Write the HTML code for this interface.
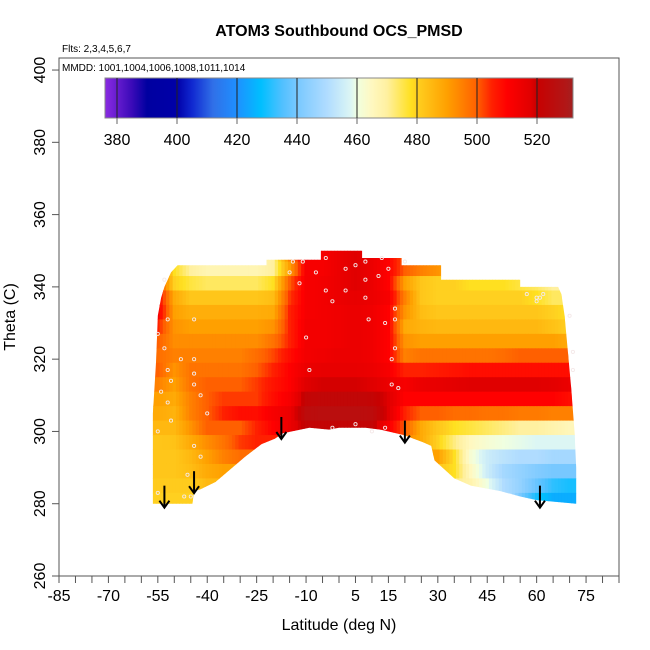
<!DOCTYPE html>
<html><head><meta charset="utf-8">
<style>
html,body{margin:0;padding:0;background:#fff;}
svg{display:block;font-family:"Liberation Sans",Arial,sans-serif;}
</style></head>
<body>
<svg id="chart" width="650" height="650" viewBox="0 0 650 650" xmlns="http://www.w3.org/2000/svg">
<defs>
<linearGradient id="cbgrad" x1="0" x2="1" y1="0" y2="0"></linearGradient>
<clipPath id="domclip"><polygon id="dompoly" points=""></polygon></clipPath>
</defs>
<text x="339" y="36" text-anchor="middle" font-size="16" font-weight="bold">ATOM3 Southbound OCS_PMSD</text>
<text x="62" y="52" font-size="10">Flts: 2,3,4,5,6,7</text>
<g id="heat" clip-path="url(#domclip)"></g>
<g id="pts"></g>
<g id="arrows"></g>
<rect x="59" y="58" width="560" height="518" fill="none" stroke="#555" stroke-width="1"></rect>
<text x="62" y="71" font-size="10">MMDD: 1001,1004,1006,1008,1011,1014</text>
<g id="cbar"></g>
<g id="xaxis"></g>
<g id="yaxis"></g>
<text x="339" y="630" text-anchor="middle" font-size="16">Latitude (deg N)</text>
<text x="0" y="0" transform="translate(15,317) rotate(-90)" text-anchor="middle" font-size="16">Theta (C)</text>
</svg>
<script>
const lats = [-55,-50,-45,-40,-35,-30,-25,-20,-15,-10,-5,0,5,10,15,20,25,30,35,40,45,50,55,60,65,70];
const thetas = [349,345,341,337,333,329,325,321,317,313,309,305,301,297,293,289,285,281];
const row349=[505,478,468,467,467,467,468,470,495,512,512,515,518,515,510,500,495,495,490,485,482,480,478,474,470,470];
const row345=[505,478,470,467,467,467,467,470,490,512,512,515,518,515,510,500,495,492,488,482,480,478,476,474,470,470];
const row341=[505,480,476,474,474,474,474,478,500,512,513,515,518,515,510,490,482,480,480,478,478,478,476,474,470,470];
const row337=[510,488,482,482,482,482,482,484,503,512,513,515,516,515,512,495,482,480,480,480,480,480,480,478,474,474];
const row333=[512,490,487,487,487,487,487,488,505,512,513,514,515,514,510,492,484,482,482,482,482,482,482,482,480,478];
const row329=[505,492,490,490,490,490,490,492,505,513,513,514,515,514,510,488,486,485,485,485,485,485,485,485,483,480];
const row325=[500,493,493,493,493,493,493,497,505,513,513,514,515,514,510,492,490,490,490,490,490,490,490,490,490,488];
const row321=[498,495,495,495,495,495,498,502,508,513,514,515,515,514,510,495,497,497,497,497,497,498,500,500,500,500];
const row317=[500,492,497,497,497,497,500,505,510,515,516,516,516,515,512,505,505,506,507,508,508,508,508,508,508,508];
const row313=[495,490,497,500,500,500,503,507,510,518,519,519,519,518,515,512,515,516,517,518,518,518,518,518,517,515];
const row309=[490,488,495,500,503,503,503,508,512,522,523,523,523,522,518,510,510,510,510,510,510,510,510,510,510,508];
const row305=[488,486,495,500,505,508,508,512,515,525,526,526,526,525,518,505,500,500,498,498,497,497,496,496,495,495];
const row301=[485,485,492,500,500,500,505,510,515,522,522,522,522,522,512,500,488,482,478,476,474,472,470,470,468,466];
const row297=[482,483,488,493,497,503,505,505,505,505,505,505,505,505,500,495,488,480,472,465,462,460,459,458,458,458];
const row293=[482,482,485,490,495,498,498,498,498,498,498,498,498,498,495,490,490,490,478,462,455,452,450,450,448,448];
const row289=[482,482,484,488,490,490,490,490,490,490,490,490,490,490,490,490,485,482,478,465,455,448,445,442,440,440];
const row285=[481,481,481,485,485,485,485,485,485,485,485,485,485,485,485,485,480,478,472,468,460,450,445,438,432,430];
const row281=[480,480,480,480,480,480,480,480,480,480,480,480,480,480,480,480,475,470,465,460,458,455,440,430,425,425];
const grid=[row349,row345,row341,row337,row333,row329,row325,row321,row317,row313,row309,row305,row301,row297,row293,row289,row285,row281];
const boundLat=[-56.5,-56.5,-55.5,-55,-54,-53,-52,-51,-49,-22,-22,-5.5,-5.5,7,7,19,19,31,31,55,55,66.5,67.5,68.5,69.5,70.5,71.5,72,72,60,55,49,40,35,29,28,25.5,19.7,12.5,8,0,-3,-9,-17,-19.5,-23.5,-28.5,-37.5,-42,-44,-44.5,-50,-56.5];
const boundTh=[280,305,320,332,337,340,342,344,346,346,347.5,347.5,350,350,348,348,346,346,342,342,340,340,338,332,322,312,300,290,280,281,282,283.5,285,287,292,296,297,299,300.5,301,301,300.5,301,299.5,298,296.5,293,286,284,283.5,280,280,280];
const ptLat=[-53,-52,-55,-53,-52,-51,-54,-52,-51,-55,-44,-44,-42,-40,-44,-42,-46,-45,-55,-47,-44,-48,-44,-14,-15,-12,-11,-4,-7,-4,-2,2,2,8,8,8,9,12,5,-10,-9,-2,5,10,14,16,17,17,17,15,13,20,14,16,18,57,60,60,61,62,71,71,70];
const ptTh=[342,331,327,323,317,314,311,308,303,300,313,316,310,305,296,293,288,282,283,282,331,320,320,347,344,341,347,348,344,339,336,345,339,347,342,337,331,343,346,326,317,301,302,300,301,320,323,331,334,345,348,347,330,313,312,338,337,336,337,338,322,317,332];
const arrowLat=[-53,-44,-17.5,20,61];
const arrowTh=[285,289,304,303,285];
const cbValues=[376,385,390,400,405,412,420,428,435,440,450,458,460,465,470,478,480,490,495,500,505,510,518,520,530,532];
const cbColors=["#8a2be2","#3a0ab8","#0000a0","#0000a8","#1028d0","#3070e8","#1e90ff","#00bfff","#50c0ff","#78c8ff","#b0dcff","#dcf6f4","#f0ffe0","#fff8c0","#fff0a0","#ffe020","#ffd020","#ffa000","#ff8000","#ff6000","#ff2000","#ff0000","#e00000","#c80000","#b01818","#a02020"];
const cbTicks=[380,400,420,440,460,480,500,520];
const xTickVals=[-85,-80,-75,-70,-65,-60,-55,-50,-45,-40,-35,-30,-25,-20,-15,-10,-5,0,5,10,15,20,25,30,35,40,45,50,55,60,65,70,75,80,85];
const xLabelVals=[-85,-70,-55,-40,-25,-10,5,15,30,45,60,75];
const yTickVals=[260,280,300,320,340,360,380,400];

const NS="http://www.w3.org/2000/svg";
function xs(l){return 59+(l+85)*3.2941;}
function ys(t){return 576-(t-260)*3.614;}
function cbx(v){return 117+(v-380)*3;}
function hex(h){return [parseInt(h.substr(1,2),16),parseInt(h.substr(3,2),16),parseInt(h.substr(5,2),16)];}
function colorOf(v){
  if(v<=cbValues[0])return cbColors[0];
  for(let i=1;i<cbValues.length;i++){
    if(v<=cbValues[i]){
      const f=(v-cbValues[i-1])/(cbValues[i]-cbValues[i-1]);
      const a=hex(cbColors[i-1]),b=hex(cbColors[i]);
      return "rgb("+a.map((c,k)=>Math.round(c+(b[k]-c)*f)).join(",")+")";
    }
  }
  return cbColors[cbColors.length-1];
}
function mk(tag,attrs,parent){const e=document.createElementNS(NS,tag);for(const k in attrs)e.setAttribute(k,attrs[k]);parent.appendChild(e);return e;}

document.getElementById('dompoly').setAttribute('points',boundLat.map((l,i)=>xs(l).toFixed(1)+","+ys(boundTh[i]).toFixed(1)).join(" "));
const heat=document.getElementById('heat');
const SUB=5;
for(let r=0;r<thetas.length;r++){
  const y0=ys(thetas[r]+2),y1=ys(thetas[r]-2);
  for(let c=0;c<lats.length;c++){
    for(let s=0;s<SUB;s++){
      const off=-2.5+(s+0.5)*5/SUB;
      const nb=off<0?Math.max(c-1,0):Math.min(c+1,lats.length-1);
      const w=Math.abs(off)/5;
      const v=grid[r][c]*(1-w)+grid[r][nb]*w;
      const xa=xs(lats[c]-2.5+s*5/SUB),xb=xs(lats[c]-2.5+(s+1)*5/SUB);
      const e=mk('rect',{x:xa.toFixed(2),y:y0.toFixed(2),width:(xb-xa+0.5).toFixed(2),height:(y1-y0+0.5).toFixed(2),fill:colorOf(v)},heat);
      
      
    }
  }
}
const pts=document.getElementById('pts');
for(let i=0;i<ptLat.length;i++){
  const e=mk('circle',{cx:xs(ptLat[i]).toFixed(1),cy:ys(ptTh[i]).toFixed(1),r:1.6,fill:'none',stroke:'#f4e8e8','stroke-width':0.9},pts);
  
  
}
const arr=document.getElementById('arrows');
for(let i=0;i<arrowLat.length;i++){
  const x=xs(arrowLat[i]),yt=ys(arrowTh[i]),yb=yt+22;
  const g=mk('g',{},arr);
  
  
  mk('line',{x1:x,y1:yt,x2:x,y2:yb,stroke:'#000','stroke-width':2},g);
  mk('polyline',{points:(x-5)+","+(yb-7)+" "+x+","+yb+" "+(x+5)+","+(yb-7),fill:'none',stroke:'#000','stroke-width':2},g);
}
const grad=document.getElementById('cbgrad');
for(let i=0;i<cbValues.length;i++){
  mk('stop',{offset:((cbValues[i]-376)/(532-376)).toFixed(4),'stop-color':cbColors[i]},grad);
}
const cb=document.getElementById('cbar');
const cbr=mk('rect',{x:cbx(376),y:78,width:cbx(532)-cbx(376),height:40,fill:'url(#cbgrad)',stroke:'#888','stroke-width':1},cb);


cbTicks.forEach(v=>{
  const x=cbx(v);
  mk('line',{x1:x,y1:78,x2:x,y2:118,stroke:'#222','stroke-width':1},cb);
  mk('line',{x1:x,y1:118,x2:x,y2:124,stroke:'#666','stroke-width':1},cb);
  const t=mk('text',{x:x,y:145,'text-anchor':'middle','font-size':16},cb);
  t.textContent=v;
  
  
});
const xa=document.getElementById('xaxis');
xTickVals.forEach(v=>{mk('line',{x1:xs(v),y1:576,x2:xs(v),y2:583,stroke:'#555','stroke-width':1},xa);});
xLabelVals.forEach(v=>{
  const t=mk('text',{x:xs(v),y:601,'text-anchor':'middle','font-size':16},xa);
  t.textContent=v;
  
  
});
const ya=document.getElementById('yaxis');
yTickVals.forEach(v=>{
  mk('line',{x1:52,y1:ys(v),x2:59,y2:ys(v),stroke:'#555','stroke-width':1},ya);
  const t=mk('text',{x:0,y:0,transform:"translate(45,"+ys(v)+") rotate(-90)",'text-anchor':'middle','font-size':16},ya);
  t.textContent=v;
  
  
});
</script>
</body></html>
